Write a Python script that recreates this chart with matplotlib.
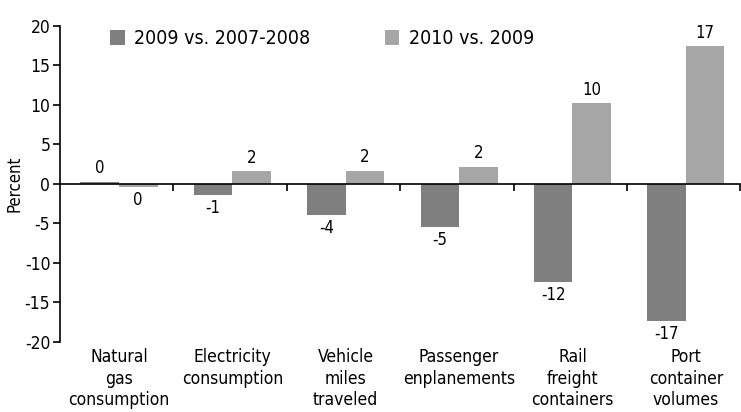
import numpy as np
import matplotlib.pyplot as plt
from matplotlib.transforms import blended_transform_factory

categories = ["Natural\ngas\nconsumption", "Electricity\nconsumption",
              "Vehicle\nmiles\ntraveled", "Passenger\nenplanements",
              "Rail\nfreight\ncontainers", "Port\ncontainer\nvolumes"]
vals_2009 = [0.3, -1.4, -3.9, -5.4, -12.4, -17.3]
vals_2010 = [-0.4, 1.6, 1.7, 2.2, 10.2, 17.4]
series_names = ["2009 vs. 2007-2008", "2010 vs. 2009"]
yticks = [-20, -15, -10, -5, 0, 5, 10, 15, 20]

plt.rcParams['font.family'] = ['DejaVu Sans']
plt.rcParams['font.stretch'] = 'condensed'
dark = '#7f7f7f'
light = '#a6a6a6'
fs = 12

fig = plt.figure(figsize=(7.41, 4.12), dpi=100)
ax = fig.add_axes([0.081, 0.17, 0.918, 0.767])

x = np.arange(len(categories))
w = 0.34
b1 = ax.bar(x - w / 2 + 0.02, vals_2009, w, color=dark, label=series_names[0])
b2 = ax.bar(x + w / 2 + 0.02, vals_2010, w, color=light, label=series_names[1])

# value labels above positive bars, below negative ones
for bars, vals in ((b1, vals_2009), (b2, vals_2010)):
    for r, v in zip(bars, vals):
        txt = str(int(round(v)))
        if v >= 0:
            ax.annotate(txt, (r.get_x() + r.get_width() / 2, v), xytext=(0, 3),
                        textcoords='offset points', ha='center', va='bottom', fontsize=fs)
        else:
            ax.annotate(txt, (r.get_x() + r.get_width() / 2, v), xytext=(0, -3),
                        textcoords='offset points', ha='center', va='top', fontsize=fs)

ax.set_xlim(-0.5, len(categories) - 0.5)
ax.set_ylim(-20, 20)
ax.set_yticks(yticks)
ax.set_yticklabels([str(t) for t in yticks], fontsize=12.5)
ax.set_ylabel("Percent", fontsize=fs, labelpad=1)

ax.spines['top'].set_visible(False)
ax.spines['right'].set_visible(False)
ax.spines['bottom'].set_position(('data', 0))
ax.spines['left'].set_linewidth(1.2)
ax.spines['bottom'].set_linewidth(1.2)
ax.tick_params(axis='y', direction='out', length=5, width=1.2, pad=2)
ax.set_xticks(np.arange(0.5, len(categories), 1.0))
ax.tick_params(axis='x', direction='out', length=5, width=1.2, labelbottom=False)

# category names under the plot area
trans = blended_transform_factory(ax.transData, ax.transAxes)
for i, c in enumerate(categories):
    ax.text(i + 0.02, -0.02, c, transform=trans, ha='center', va='top',
            fontsize=12.5, linespacing=1.25)

ax.legend(loc='upper left', bbox_to_anchor=(0.048, 1.045), ncol=2, frameon=False,
          fontsize=14, handlelength=0.75, handleheight=0.8, columnspacing=3.8,
          handletextpad=0.5)

fig.savefig("out.png", dpi=100)
